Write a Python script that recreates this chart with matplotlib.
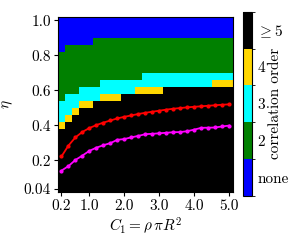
import matplotlib
matplotlib.use('Agg')
import matplotlib.pyplot as plt
import numpy as np
from matplotlib.colors import ListedColormap, BoundaryNorm

plt.rcParams['font.family'] = ['cmr10', 'DejaVu Serif']
plt.rcParams['mathtext.fontset'] = 'cm'
plt.rcParams['axes.formatter.use_mathtext'] = True

# grid axes
C1 = np.round(np.arange(0.2, 5.01, 0.2), 2)
eta = np.round(np.arange(0.04, 1.001, 0.04), 2)

# per column: highest eta that still has the given order
black_top = [0.36, 0.40, 0.44, 0.48, 0.48, 0.52, 0.52, 0.52, 0.52, 0.56, 0.56, 0.56,
             0.56, 0.56, 0.56, 0.60, 0.60, 0.60, 0.60, 0.60, 0.60, 0.60, 0.60, 0.60, 0.60]
gold_top = [0.40, 0.44, 0.48, 0.52, 0.52, 0.52, 0.56, 0.56, 0.56, 0.56, 0.56, 0.60,
            0.60, 0.60, 0.60, 0.60, 0.60, 0.60, 0.60, 0.60, 0.60, 0.60, 0.64, 0.64, 0.64]
cyan_top = [0.52, 0.56, 0.56, 0.60, 0.60, 0.60, 0.64, 0.64, 0.64, 0.64, 0.64, 0.64,
            0.68, 0.68, 0.68, 0.68, 0.68, 0.68, 0.68, 0.68, 0.68, 0.68, 0.68, 0.68, 0.68]
green_top = [0.80, 0.84, 0.84, 0.84, 0.84, 0.88, 0.88, 0.88, 0.88, 0.88, 0.88, 0.88,
             0.88, 0.88, 0.88, 0.88, 0.88, 0.88, 0.88, 0.88, 0.88, 0.88, 0.88, 0.88, 0.88]

red_eta = [0.223, 0.285, 0.332, 0.363, 0.385, 0.402, 0.416, 0.428, 0.440, 0.449, 0.457,
           0.465, 0.472, 0.478, 0.484, 0.490, 0.495, 0.499, 0.503, 0.506, 0.509, 0.512,
           0.515, 0.518, 0.520]
mag_eta = [0.142, 0.168, 0.203, 0.228, 0.255, 0.273, 0.287, 0.299, 0.318, 0.322, 0.332,
           0.340, 0.350, 0.352, 0.355, 0.358, 0.361, 0.362, 0.367, 0.376, 0.386, 0.387,
           0.388, 0.394, 0.399]

order_labels = ['none', '2', '3', '4', r'$\geq 5$']
order_colors = ['#0000ff', '#008000', '#00ffff', '#ffd700', '#000000']

# build order map
order = np.ones((len(eta), len(C1)))
for j in range(len(C1)):
    for i, e in enumerate(eta):
        if e <= black_top[j] + 1e-9:
            order[i, j] = 5
        elif e <= gold_top[j] + 1e-9:
            order[i, j] = 4
        elif e <= cyan_top[j] + 1e-9:
            order[i, j] = 3
        elif e <= green_top[j] + 1e-9:
            order[i, j] = 2

cmap = ListedColormap(order_colors)
norm = BoundaryNorm([0.5, 1.5, 2.5, 3.5, 4.5, 5.5], cmap.N)

fig = plt.figure(figsize=(2.91, 2.45), dpi=100)
ax = fig.add_axes([0.1993, 0.2163, 0.6003, 0.7155])
cax = fig.add_axes([0.836, 0.2012, 0.029, 0.751])

xe = np.append(C1 - 0.1, C1[-1] + 0.1)
ye = np.append(eta - 0.02, eta[-1] + 0.02)
im = ax.pcolormesh(xe, ye, order, cmap=cmap, norm=norm)

ax.plot(C1, red_eta, '-o', color='red', lw=1.3, ms=2.0)
ax.plot(C1, mag_eta, '-o', color='magenta', lw=1.3, ms=2.0)

ax.set_xlim(0.1, 5.1)
ax.set_ylim(0.02, 1.02)
fs = 11
ax.set_xticks([0.2, 1, 2, 3, 4, 5])
ax.set_xticklabels(['0.2', '1.0', '2.0', '3.0', '4.0', '5.0'], fontsize=fs)
ax.set_yticks([0.04, 0.2, 0.4, 0.6, 0.8, 1.0])
ax.set_yticklabels(['0.04', '0.2', '0.4', '0.6', '0.8', '1.0'], fontsize=fs)
ax.tick_params(length=3, width=0.8, pad=2)
ax.set_xlabel(r'$C_1 = \rho\,\pi R^2$', fontsize=fs, labelpad=2)
ax.set_ylabel(r'$\eta$', fontsize=fs, labelpad=6)

cb = fig.colorbar(im, cax=cax, ticks=[1, 2, 3, 4, 5])
cb.ax.set_yticklabels(order_labels, fontsize=fs)
cb.ax.tick_params(length=0, pad=4)
# colorbar title sits over the short tick labels, as in the original
fig.text(275.5 / 291, 1 - 103.5 / 245, 'correlation order', rotation=90,
         ha='center', va='center', fontsize=fs)

fig.savefig('out.png', dpi=100)
